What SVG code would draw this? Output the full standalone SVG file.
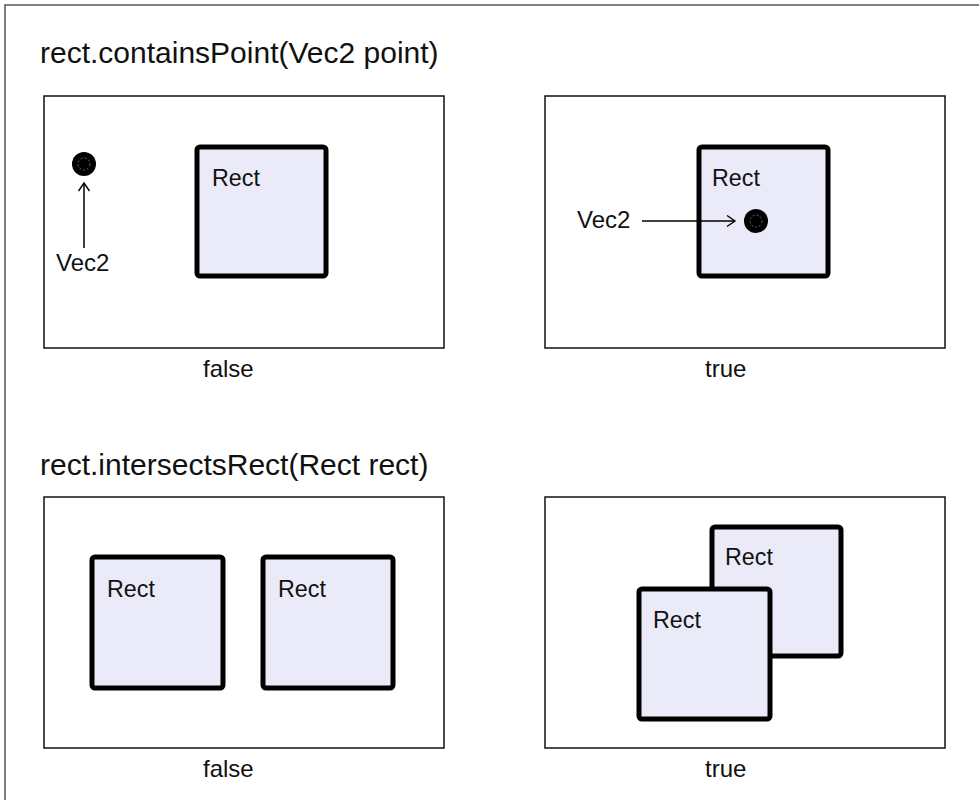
<svg xmlns="http://www.w3.org/2000/svg" width="979" height="800" viewBox="0 0 979 800">
<style>
text{font-family:"Liberation Sans",Arial,sans-serif;fill:#111}
.title{font-size:30px}
.lbl{font-size:24px}
.rl{font-size:23.3px}
.panel{fill:#fff;stroke:#111;stroke-width:1.5}
.box{fill:#eaeaf8;stroke:#000;stroke-width:5}
.conn{stroke:#000;stroke-width:1.5;fill:none}
</style>
<defs>
<marker id="arr" markerWidth="14" markerHeight="14" refX="10" refY="7" orient="auto" markerUnits="userSpaceOnUse">
<path d="M2,1.5 L10,7 L2,12.5" fill="none" stroke="#000" stroke-width="1.4"/>
</marker>
<g id="dot-def">
<circle r="12" fill="#000"/>
<circle r="6" fill="none" stroke="#777" stroke-width="0.9" stroke-dasharray="2,2"/>
</g>
</defs>
<rect width="979" height="800" fill="#fff"/>
<path d="M5,800 V5 H979" fill="none" stroke="#555" stroke-width="1.5"/>

<text class="title" x="40" y="63">rect.containsPoint(Vec2 point)</text>
<text class="title" x="40" y="475">rect.intersectsRect(Rect rect)</text>

<g id="panel1">
<rect class="panel" x="44" y="96" width="400" height="252"/>
<text class="lbl" x="203" y="377">false</text>
</g>
<g id="panel2">
<rect class="panel" x="545" y="96" width="400" height="252"/>
<text class="lbl" x="705" y="377">true</text>
</g>
<g id="panel3">
<rect class="panel" x="44" y="497" width="400" height="251"/>
<text class="lbl" x="203" y="777">false</text>
</g>
<g id="panel4">
<rect class="panel" x="545" y="497" width="400" height="251"/>
<text class="lbl" x="705" y="777">true</text>
</g>

<g id="rect1">
<rect class="box" x="197" y="147" width="129" height="129" rx="3"/>
<text class="rl" x="212" y="186">Rect</text>
</g>
<g id="point1">
<use href="#dot-def" x="84" y="164"/>
<text class="lbl" x="56" y="271">Vec2</text>
</g>

<g id="rect2">
<rect class="box" x="699" y="147" width="129" height="129" rx="3"/>
<text class="rl" x="712" y="186">Rect</text>
</g>
<g id="point2">
<use href="#dot-def" x="756" y="221"/>
<text class="lbl" x="577" y="228">Vec2</text>
</g>

<g id="rect3">
<rect class="box" x="92" y="557" width="131" height="131" rx="3"/>
<text class="rl" x="107" y="597">Rect</text>
</g>
<g id="rect4">
<rect class="box" x="263" y="557" width="130" height="131" rx="3"/>
<text class="rl" x="278" y="597">Rect</text>
</g>

<g id="rect5">
<rect class="box" x="712" y="527" width="129" height="129" rx="3"/>
<text class="rl" x="725" y="565">Rect</text>
</g>
<g id="rect6">
<rect class="box" x="639" y="589" width="131" height="130" rx="3"/>
<text class="rl" x="653" y="628">Rect</text>
</g>

<g id="connectors">
<line class="conn" x1="84" y1="248" x2="84" y2="183" marker-end="url(#arr)"/>
<line class="conn" x1="642" y1="221" x2="735" y2="221" marker-end="url(#arr)"/>
</g>
</svg>
